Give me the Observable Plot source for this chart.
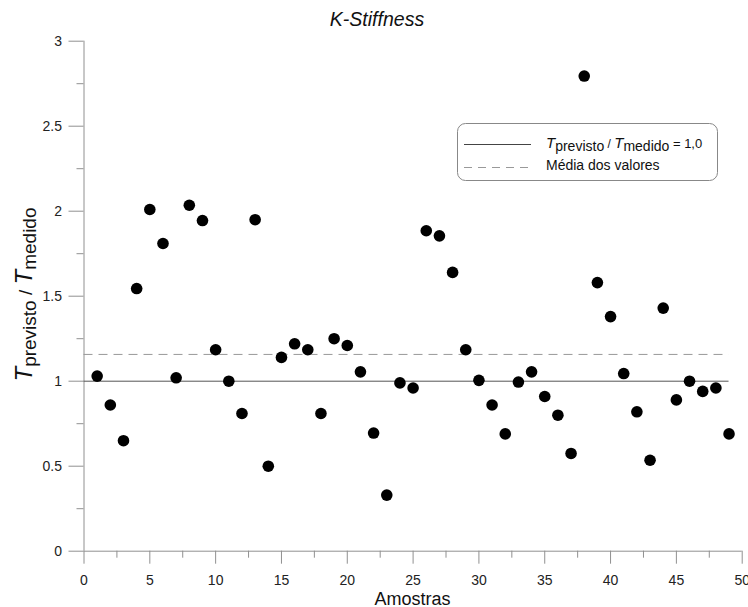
<!DOCTYPE html>
<html>
<head>
<meta charset="utf-8">
<script src="https://cdn.jsdelivr.net/npm/d3@7"></script>
<script src="https://cdn.jsdelivr.net/npm/@observablehq/plot@0.6"></script>
<style>
  html, body { margin: 0; padding: 0; background: #fff; }
  #chart svg { display: block; }
</style>
</head>
<body>
<div id="chart"></div>
<script>
// Ratio between predicted and measured load (K-Stiffness method), one value per sample
const ratios = [
  1.03, 0.86, 0.65, 1.545, 2.01, 1.81, 1.02, 2.035, 1.945, 1.185,
  1.0, 0.81, 1.95, 0.5, 1.14, 1.22, 1.185, 0.81, 1.25, 1.21,
  1.055, 0.695, 0.33, 0.99, 0.96, 1.885, 1.855, 1.64, 1.185, 1.005,
  0.86, 0.69, 0.995, 1.055, 0.91, 0.8, 0.575, 2.795, 1.58, 1.38,
  1.045, 0.82, 0.535, 1.43, 0.89, 1.0, 0.94, 0.96, 0.69
];

// Axis ticks
const xTicks = [0, 5, 10, 15, 20, 25, 30, 35, 40, 45, 50];
const xMinorTicks = [2.5, 7.5, 12.5, 17.5, 22.5, 27.5, 32.5, 37.5, 42.5, 47.5];
const yTicks = [0, 0.5, 1, 1.5, 2, 2.5, 3];
const yMinorTicks = [0.25, 0.75, 1.25, 1.75, 2.25, 2.75];

// Reference ratio and average of all samples
const reference = 1.0;
const samples = ratios.map((v, i) => ({amostra: i + 1, ratio: v}));
const media = d3.mean(ratios);

const axisGray = "#909090";
const font = "'Liberation Sans', Arial, sans-serif";

const svg = Plot.plot({
  width: 748,
  height: 607,
  marginLeft: 83.5,
  marginRight: 6.3,
  marginTop: 40.7,
  marginBottom: 56.3,
  style: {fontFamily: font, fontSize: "14px", color: "#222", background: "#fff"},
  x: {domain: [0, 50], label: null},
  y: {domain: [0, 3], label: null},
  marks: [
    Plot.axisX(xTicks, {tickSize: 13, tickPadding: 11, stroke: axisGray, fill: "#222", tickFormat: d => String(d), label: null}),
    Plot.axisX(xMinorTicks, {tickSize: 7, stroke: axisGray, fill: "none", label: null}),
    Plot.axisY(yTicks, {tickSize: 15, tickPadding: 7, stroke: axisGray, fill: "#222", tickFormat: d => String(d), label: null}),
    Plot.axisY(yMinorTicks, {tickSize: 7, stroke: axisGray, fill: "none", label: null}),
    Plot.ruleX([0], {stroke: axisGray}),
    Plot.ruleY([0], {stroke: axisGray}),
    Plot.ruleY([reference], {x1: 0, x2: samples.length, stroke: "#555", strokeWidth: 1}),
    Plot.ruleY([media], {x1: 0, x2: samples.length, stroke: "#999", strokeWidth: 1, strokeDasharray: "9,6"}),
    Plot.dot(samples, {x: "amostra", y: "ratio", r: 5.8, fill: "#000", stroke: "none"})
  ]
});

document.getElementById("chart").appendChild(svg);

const g = d3.select(svg).append("g").attr("font-family", font).attr("fill", "#111");

// Title
g.append("text")
  .attr("x", 377).attr("y", 26)
  .attr("text-anchor", "middle")
  .attr("font-size", 19.5)
  .attr("font-style", "italic")
  .text("K-Stiffness");

// X axis title
g.append("text")
  .attr("x", 412.6).attr("y", 604.5)
  .attr("text-anchor", "middle")
  .attr("font-size", 18)
  .text("Amostras");

// Y axis title with subscripts
const yl = g.append("text")
  .attr("transform", "translate(32,294.5) rotate(-90)")
  .attr("text-anchor", "middle")
  .attr("font-size", 19);
yl.append("tspan").attr("font-style", "italic").attr("font-size", 24).text("T");
yl.append("tspan").attr("dy", 4).text("previsto");
yl.append("tspan").attr("dy", -4).text(" / ");
yl.append("tspan").attr("font-style", "italic").attr("font-size", 24).text("T");
yl.append("tspan").attr("dy", 4).text("medido");

// Legend
const lg = g.append("g").attr("text-anchor", "start");
lg.append("rect")
  .attr("x", 457.5).attr("y", 123.5).attr("width", 260).attr("height", 57)
  .attr("rx", 8).attr("ry", 8)
  .attr("fill", "#fff").attr("stroke", "#888").attr("stroke-width", 1);
lg.append("line")
  .attr("x1", 464).attr("x2", 531).attr("y1", 144.5).attr("y2", 144.5)
  .attr("stroke", "#444").attr("stroke-width", 1);
lg.append("line")
  .attr("x1", 464).attr("x2", 531).attr("y1", 167.5).attr("y2", 167.5)
  .attr("stroke", "#999").attr("stroke-width", 1).attr("stroke-dasharray", "8,6");
const l1 = lg.append("text").attr("x", 546).attr("y", 147.5).attr("font-size", 14).attr("text-anchor", "start");
l1.append("tspan").attr("font-style", "italic").attr("font-size", 15).text("T");
l1.append("tspan").attr("dy", 3).text("previsto");
l1.append("tspan").attr("dy", -3).attr("font-size", 12).text(" / ");
l1.append("tspan").attr("font-style", "italic").attr("font-size", 15).text("T");
l1.append("tspan").attr("dy", 3).text("medido");
l1.append("tspan").attr("dy", -3).attr("font-size", 13).text(" = 1,0");
lg.append("text").attr("x", 546).attr("y", 170).attr("font-size", 14).attr("text-anchor", "start").text("Média dos valores");
</script>
</body>
</html>
